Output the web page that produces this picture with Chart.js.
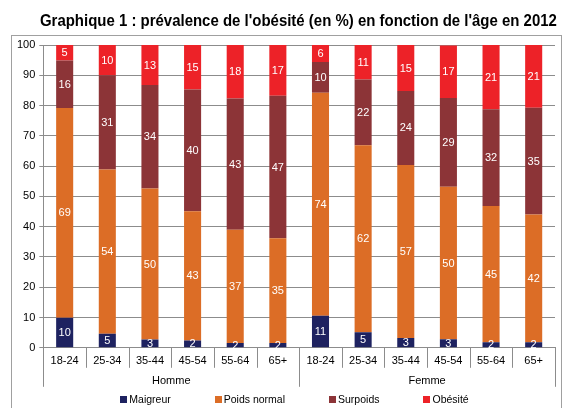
<!DOCTYPE html>
<html>
<head>
<meta charset="utf-8">
<script src="https://cdn.jsdelivr.net/npm/chart.js@4/dist/chart.umd.min.js"></script>
<style>
  html, body { margin: 0; padding: 0; background: #fff; }
  #wrap { position: relative; width: 565px; height: 408px; overflow: hidden; }
  #title { position: absolute; right: 8px; top: 11px; white-space: nowrap; line-height: 20px;
           font: bold 16.5px "Liberation Sans", Arial, sans-serif; color: #000; transform-origin: right center; }
  #legend { position: absolute; left: 0; width: 589px; top: 393px; display: flex; justify-content: center; gap: 44px;
            font: 10.5px "Liberation Sans", Arial, sans-serif; color: #000; }
  #legend span.item { display: flex; align-items: center; line-height: 13px; }
  #legend span.sw { display: inline-block; width: 7px; height: 7px; margin-right: 2px; }
</style>
</head>
<body>
<div id="wrap">
  <canvas id="c" width="565" height="408"></canvas>
  <div id="title"></div>
  <div id="legend"></div>
</div>
<script>
const titleText = "Graphique 1 : prévalence de l'obésité (en %) en fonction de l'âge en 2012";
const ageLabels = ['18-24', '25-34', '35-44', '45-54', '55-64', '65+', '18-24', '25-34', '35-44', '45-54', '55-64', '65+'];
const groups = ['Homme', 'Femme'];
const groupSize = 6;
const seriesNames = ['Maigreur', 'Poids normal', 'Surpoids', 'Obésité'];
const maigreur    = [9.9, 4.6, 2.7, 2.4, 1.6, 1.6, 10.6, 5.1, 3.2, 2.8, 1.8, 1.8];
const poidsNormal = [69.3, 54.3, 49.9, 42.7, 37.4, 34.6, 73.6, 61.8, 57.2, 50.4, 45.0, 42.2];
const surpoids    = [15.7, 31.1, 34.2, 40.2, 43.3, 47.0, 10.2, 21.7, 24.4, 29.3, 32.0, 35.3];
const obesite     = [5.1, 10.0, 13.2, 14.7, 17.7, 16.8, 5.6, 11.4, 15.2, 17.3, 21.2, 20.7];
const colors = ['#1e2260', '#dc6d26', '#8c3437', '#ed2228'];

const FONT = '"Liberation Sans", Arial, sans-serif';
const GRID = '#8c8c8c';

const frame = {
  id: 'frame',
  beforeDraw(chart) {
    const ctx = chart.ctx;
    ctx.save();
    ctx.strokeStyle = '#a0a0a0';
    ctx.lineWidth = 1;
    ctx.strokeRect(11.5, 35.5, 550, 400);
    ctx.restore();
  }
};

const valueLabels = {
  id: 'valueLabels',
  afterDatasetsDraw(chart) {
    const ctx = chart.ctx;
    ctx.save();
    ctx.font = '11px ' + FONT;
    ctx.fillStyle = '#ffffff';
    ctx.textAlign = 'center';
    ctx.textBaseline = 'middle';
    chart.data.datasets.forEach((ds, di) => {
      const meta = chart.getDatasetMeta(di);
      meta.data.forEach((el, i) => {
        const p = el.getCenterPoint();
        ctx.fillText(String(Math.round(ds.data[i])), p.x, p.y + 0.5);
      });
    });
    ctx.restore();
  }
};

const groupAxis = {
  id: 'groupAxis',
  afterDraw(chart) {
    const xs = chart.scales.x;
    const ctx = chart.ctx;
    const n = ageLabels.length;
    const step = (xs.getPixelForValue(1) - xs.getPixelForValue(0));
    const bound = i => xs.getPixelForValue(i) - step / 2;
    ctx.save();
    ctx.strokeStyle = GRID;
    ctx.lineWidth = 1;
    ctx.font = '11px ' + FONT;
    ctx.fillStyle = '#000';
    ctx.textAlign = 'center';
    ctx.textBaseline = 'middle';
    const top = xs.top;
    for (let i = 0; i <= n; i++) {
      const isGroup = i % groupSize === 0;
      const x = Math.round(bound(i)) + 0.5;
      ctx.beginPath();
      ctx.moveTo(x, top);
      ctx.lineTo(x, top + (isGroup ? 39 : 20));
      ctx.stroke();
    }
    groups.forEach((name, g) => {
      const x = (bound(g * groupSize) + bound((g + 1) * groupSize)) / 2;
      ctx.fillText(name, x, top + 33);
    });
    ctx.restore();
  }
};

const mk = (i, data) => ({ label: seriesNames[i], data, backgroundColor: colors[i], borderWidth: 0,
  barPercentage: 0.4, categoryPercentage: 1.0 });

const chart = new Chart(document.getElementById('c'), {
  type: 'bar',
  data: {
    labels: ageLabels,
    datasets: [mk(0, maigreur), mk(1, poidsNormal), mk(2, surpoids), mk(3, obesite)]
  },
  options: {
    responsive: false,
    animation: false,
    devicePixelRatio: 1,
    layout: { padding: { left: 13, right: 10, top: 45, bottom: 33 } },
    plugins: {
      legend: { display: false },
      tooltip: { enabled: false },
      title: { display: false }
    },
    scales: {
      x: {
        stacked: true,
        offset: true,
        grid: { offset: true, drawOnChartArea: false, drawTicks: false, color: GRID },
        border: { color: GRID },
        ticks: { padding: 7, color: '#000', font: { family: FONT, size: 11 }, maxRotation: 0, autoSkip: false }
      },
      y: {
        stacked: true,
        min: 0, max: 100,
        grid: { color: GRID, tickLength: 4 },
        border: { color: GRID },
        ticks: { stepSize: 10, padding: 4, color: '#000', font: { family: FONT, size: 11 } }
      }
    }
  },
  plugins: [frame, valueLabels, groupAxis]
});

const t = document.getElementById('title');
t.textContent = titleText;
const w = t.getBoundingClientRect().width;
t.style.transform = 'scaleX(' + (517 / w) + ')';

const lg = document.getElementById('legend');
chart.data.datasets.forEach(ds => {
  const it = document.createElement('span');
  it.className = 'item';
  const sw = document.createElement('span');
  sw.className = 'sw';
  sw.style.background = ds.backgroundColor;
  it.appendChild(sw);
  it.appendChild(document.createTextNode(ds.label));
  lg.appendChild(it);
});
</script>
</body>
</html>
